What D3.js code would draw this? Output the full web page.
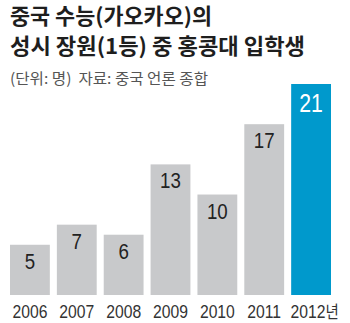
<!DOCTYPE html>
<html>
<head>
<meta charset="utf-8">
<script src="https://cdn.jsdelivr.net/npm/d3@7/dist/d3.min.js"></script>
<style>
  html, body { margin: 0; padding: 0; background: #fff; }
  svg { display: block; }
  text { white-space: pre; }
</style>
</head>
<body>
<svg id="chart" width="350" height="323"></svg>
<script>
// 홍콩대에 입학한 중국 성(省)별 가오카오 수석 인원
const years = ["2006", "2007", "2008", "2009", "2010", "2011", "2012"];
const students = [5, 7, 6, 13, 10, 17, 21];
const yearUnit = "년";
const titleLines = ["중국 수능(가오카오)의", "성시 장원(1등) 중 홍콩대 입학생"];
const subtitle = "(단위: 명)  자료: 중국 언론 종합";

const svg = d3.select("#chart");

const latin = "'Liberation Sans', Arial, sans-serif";
const hangul = "'Noto Sans CJK KR', 'Noto Sans', sans-serif";

// 제목
svg.selectAll("text.title")
  .data(titleLines)
  .join("text")
  .attr("class", "title")
  .attr("x", 10)
  .attr("y", (d, i) => 24 + i * 30)
  .attr("font-family", hangul)
  .attr("font-weight", 700)
  .attr("font-size", 21.5)
  .attr("fill", "#1e1e1e")
  .attr("textLength", (d, i) => i === 0 ? 202 : 295)
  .attr("lengthAdjust", "spacingAndGlyphs")
  .text(d => d);

svg.append("text")
  .attr("x", 10)
  .attr("y", 84)
  .attr("font-family", hangul)
  .attr("font-size", 15)
  .attr("fill", "#555")
  .attr("textLength", 198)
  .attr("lengthAdjust", "spacingAndGlyphs")
  .text(subtitle);

// 축척
const x = d3.scaleBand()
  .domain(years)
  .range([10, 331])
  .paddingInner(0.15)
  .paddingOuter(0);

const y = d3.scaleLinear()
  .domain([0, 21])
  .range([295, 84]);

const lastYear = years[years.length - 1];
const barColor = d => d === lastYear ? "#0099cc" : "#c8c9cb";

const data = years.map((yr, i) => ({ year: yr, value: students[i] }));

// 막대
svg.append("g")
  .selectAll("rect")
  .data(data)
  .join("rect")
  .attr("x", d => x(d.year))
  .attr("y", d => y(d.value))
  .attr("width", x.bandwidth())
  .attr("height", d => y(0) - y(d.value))
  .attr("fill", d => barColor(d.year));

// 막대 안 수치
svg.append("g")
  .selectAll("text")
  .data(data)
  .join("text")
  .attr("transform", d => {
    const hi = d.year === lastYear;
    return `translate(${x(d.year) + x.bandwidth() / 2},${y(d.value) + (hi ? 28 : 24)}) scale(0.85,1)`;
  })
  .attr("text-anchor", "middle")
  .attr("font-family", latin)
  .attr("font-size", d => d.year === lastYear ? 25 : 22)
  .attr("fill", d => d.year === lastYear ? "#fff" : "#222")
  .text(d => d.value);

// 연도 축
const axis = d3.axisBottom(x).tickSize(0).tickPadding(0);
const gAxis = svg.append("g")
  .attr("transform", `translate(0,${y(0)})`)
  .call(axis);
gAxis.select(".domain").remove();
gAxis.selectAll(".tick text")
  .attr("y", 0)
  .attr("dy", 0)
  .attr("font-family", latin)
  .attr("font-size", 18.5)
  .attr("fill", "#333")
  .attr("transform", "translate(0,23.3) scale(0.85,1)")
  .each(function(d) {
    if (d === lastYear) {
      const t = d3.select(this);
      t.attr("transform", "translate(3.5,23.3) scale(0.85,1)");
      t.append("tspan")
        .attr("font-family", hangul)
        .attr("font-size", 17)
        .text(yearUnit);
    }
  });
</script>
</body>
</html>
